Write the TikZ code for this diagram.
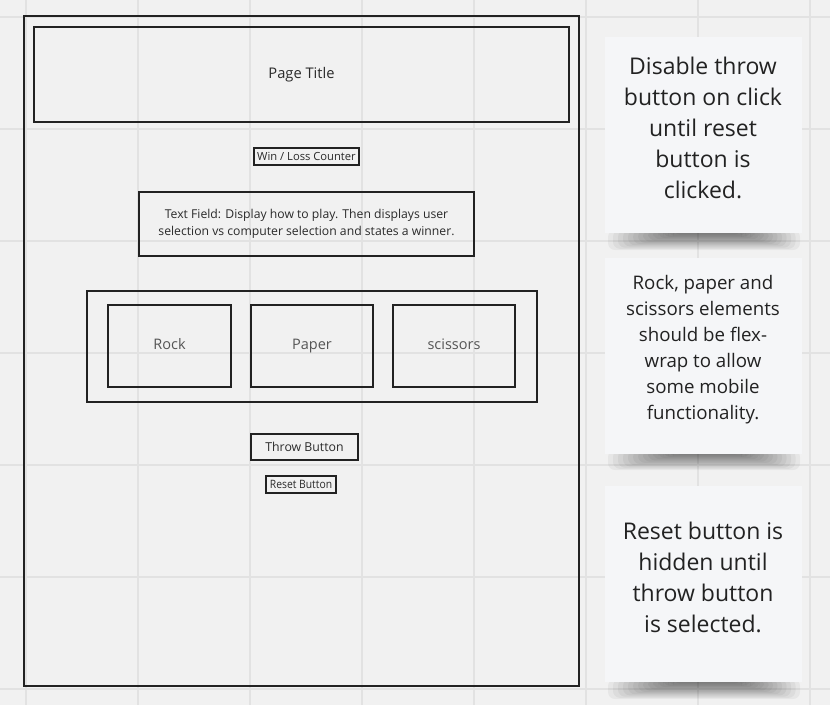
\documentclass[tikz,border=0pt]{standalone}
\usepackage{fontspec}
\setmainfont{Open Sans}
\definecolor{bg}{HTML}{F1F1F1}
\definecolor{gridc}{HTML}{E2E2E2}
\definecolor{ink}{HTML}{222222}
\definecolor{txt}{HTML}{2A2A2A}
\definecolor{soft}{HTML}{555555}
\definecolor{notec}{HTML}{F5F6F8}
\begin{document}
\begin{tikzpicture}[x=1pt,y=-1pt,
  wbox/.style={draw=ink, line width=2.7pt, rectangle, inner sep=0pt, align=center, text=txt},
  rps/.style={wbox, minimum height=82pt, text=soft, font=\fontsize{14.5}{17}\selectfont, text height=10.5pt, text depth=3pt},
  notebox/.style={fill=notec, draw=none, rectangle, inner sep=0pt, minimum width=197pt, minimum height=196pt},
  notetext/.style={align=center, text=ink, inner sep=0pt}
]
\fill[bg] (0,0) rectangle (830,705);
\useasboundingbox (0,0) rectangle (830,705);
% grid
\foreach \gx in {26,138,250,362,474,586,698,810} \draw[gridc, line width=1.2pt] (\gx,0) -- (\gx,705);
\foreach \gy in {17,129,241,353,465,577,689} \draw[gridc, line width=1.2pt] (0,\gy) -- (830,\gy);

% wireframe
\node[wbox, minimum width=555pt, minimum height=670pt] (frame) at (301.5,351) {};
\node[wbox, minimum width=535pt, minimum height=95pt, font=\fontsize{14.7}{17}\selectfont] (title) at (301.5,74.5) {Page Title};
\node[wbox, minimum width=105pt, minimum height=17pt, font=\fontsize{11.2}{12}\selectfont] (wl) at (306.5,156.5) {Win / Loss Counter};
\node[wbox, minimum width=335pt, minimum height=64pt, font=\fontsize{12.2}{17}\selectfont] (tf) at (306.5,224) {Text Field: Display how to play. Then displays user\\selection vs computer selection and states a winner.};
\node[wbox, minimum width=450pt, minimum height=111pt] (cont) at (312,346.5) {};
\node[rps, minimum width=123pt] (rock) at (169.5,346) {Rock};
\node[rps, minimum width=122pt] (paper) at (312,346) {Paper};
\node[rps, minimum width=122pt] (sciss) at (454,346) {scissors};
\node[wbox, minimum width=107pt, minimum height=26pt, font=\fontsize{12.3}{14}\selectfont] (throw) at (304.5,447) {Throw Button};
\node[wbox, minimum width=70pt, minimum height=17pt, font=\fontsize{11.5}{12}\selectfont] (reset) at (301,484.5) {\scalebox{0.9}[1]{Reset Button}};

% sticky note shadows
\foreach \ny in {233,453,682}{
  \foreach \k in {0,...,13}{
    \fill[black, opacity=0.045, rounded corners=7pt] (608+5*\k,\ny-3) rectangle (800-4.5*\k,\ny+17-1.2*\k);
  }
}
% sticky notes
\node[notebox] (n1) at (703.5,134.5) {};
\node[notebox] (n2) at (703.5,355.5) {};
\node[notebox] (n3) at (703.5,583.5) {};
\node[notetext, font=\fontsize{23}{31}\selectfont] (t1) at (703,128) {Disable throw\\button on click\\until reset\\button is\\clicked.};
\node[notetext, font=\fontsize{18.7}{26}\selectfont] (t2) at (703,350) {Rock, paper and\\scissors elements\\should be flex-\\wrap to allow\\some mobile\\functionality.};
\node[notetext, font=\fontsize{23}{31}\selectfont] (t3) at (703,577.5) {Reset button is\\hidden until\\throw button\\is selected.};
\end{tikzpicture}
\end{document}
